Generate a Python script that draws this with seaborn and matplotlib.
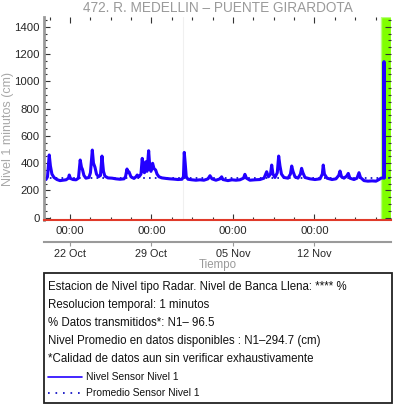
import numpy as np
import pandas as pd
import matplotlib
matplotlib.use("Agg")
import matplotlib.pyplot as plt
import matplotlib.dates as mdates
from matplotlib.ticker import FixedLocator
from matplotlib.lines import Line2D
from matplotlib.patches import Rectangle
import seaborn as sns

# level readings (cm) vs days after 22 Oct 00:00
dias = [-2.06, -1.93, -1.78, -1.68, -1.55, -1.37, -1.12, -0.86, -0.6, -0.34,
        -0.13, -0.06, 0.04, 0.26, 0.52, 0.73, 0.88, 0.99, 1.07, 1.2,
        1.37, 1.63, 1.76, 1.92, 2.02, 2.15, 2.28, 2.45, 2.62, 2.75,
        2.88, 3.0, 3.26, 3.61, 3.95, 4.3, 4.64, 4.77, 4.9, 4.98,
        5.07, 5.24, 5.5, 5.67, 5.78, 5.93, 6.1, 6.21, 6.31, 6.4,
        6.5, 6.62, 6.76, 6.87, 6.96, 7.1, 7.22, 7.36, 7.48, 7.65,
        7.9, 8.25, 8.59, 8.93, 9.28, 9.62, 9.75, 9.82, 9.9, 9.99,
        10.14, 10.48, 10.82, 11.17, 11.51, 11.86, 12.03, 12.2, 12.54, 12.89,
        13.03, 13.14, 13.57, 13.92, 14.26, 14.6, 14.91, 15.03, 15.16, 15.46,
        15.89, 16.32, 16.67, 16.9, 17.05, 17.23, 17.33, 17.44, 17.61, 17.81,
        17.93, 18.04, 18.17, 18.38, 18.73, 18.94, 19.05, 19.16, 19.33, 19.59,
        19.8, 19.9, 20.01, 20.19, 20.62, 21.05, 21.48, 21.68, 21.76, 21.86,
        22.08, 22.51, 22.85, 23.09, 23.2, 23.33, 23.54, 23.77, 23.91, 24.05,
        24.4, 24.66, 24.83, 24.96, 25.26, 25.6, 25.95, 26.29, 26.55, 26.72,
        26.89, 26.97, 26.98, 27.0]
nivel = [280, 300, 460, 380, 320, 295, 280, 272, 275, 278,
         290, 313, 288, 280, 278, 290, 423, 370, 355, 310,
         290, 295, 330, 496, 400, 370, 320, 300, 310, 452,
         340, 305, 292, 290, 285, 282, 285, 300, 357, 330,
         337, 300, 288, 300, 313, 300, 320, 435, 340, 330,
         410, 340, 491, 360, 340, 399, 360, 350, 320, 300,
         292, 288, 285, 283, 280, 282, 300, 479, 400, 300,
         282, 278, 275, 278, 275, 285, 308, 285, 275, 285,
         300, 280, 272, 278, 275, 278, 290, 318, 290, 275,
         278, 280, 290, 337, 300, 320, 386, 320, 295, 330,
         452, 380, 320, 295, 290, 320, 379, 340, 300, 290,
         320, 362, 330, 295, 285, 280, 285, 320, 386, 320,
         290, 280, 285, 310, 342, 300, 290, 305, 325, 290,
         280, 290, 330, 295, 272, 268, 270, 268, 280, 290,
         292, 292, 1144, 292]
promedio = 294.7

inicio = pd.Timestamp("2023-10-22")
x_lim = [-2.23, 27.58]
zona_verde = [26.72, 27.58]
linea_gris = 9.7
ticks_mayores = [0, 7, 14, 21]
etiquetas_hora = ["00:00", "00:00", "00:00", "00:00"]
etiquetas_fecha = ["22 Oct", "29 Oct", "05 Nov", "12 Nov"]
y_ticks = [0, 200, 400, 600, 800, 1000, 1200, 1400]

titulo = "472. R. MEDELLIN \u2013 PUENTE GIRARDOTA"
lineas_caja = [
    "Estacion de Nivel tipo Radar. Nivel de Banca Llena: **** %",
    "Resolucion temporal: 1 minutos",
    "% Datos transmitidos*: N1\u2013 96.5",
    "Nivel Promedio en datos disponibles : N1\u2013294.7 (cm)",
    "*Calidad de datos aun sin verificar exhaustivamente",
]
leyenda = ["Nivel Sensor Nivel 1", "Promedio Sensor Nivel 1"]

sns.set_style("ticks")
plt.rcParams["font.family"] = ["Liberation Sans", "DejaVu Sans"]

W, H = 394, 404
fig = plt.figure(figsize=(W / 100, H / 100), dpi=100)


def fx(px):
    return px / W


def fy(py):
    return 1 - py / H


def fecha(d):
    return inicio + pd.to_timedelta(d, unit="D")


azul = "#2200ff"
gris = "#9a9a9a"

ax = fig.add_axes([fx(44), fy(219.5), fx(391) - fx(44), fy(16.5) - fy(219.5)])
df = pd.DataFrame({"tiempo": [fecha(d) for d in dias], "nivel": nivel})
ax.axvline(fecha(linea_gris), color="#f0f0f0", lw=0.8, zorder=0)
ax.axvspan(fecha(zona_verde[0]), fecha(zona_verde[1]), facecolor="#80ff00",
           edgecolor="#b8ff80", lw=1, zorder=0)
ax.axhline(promedio, color="#0000c0", lw=1.2, ls=(0, (1, 2.5)), zorder=1)
sns.lineplot(data=df, x="tiempo", y="nivel", ax=ax, color=azul, lw=2.2,
             zorder=2, estimator=None)

ax.set_xlim(fecha(x_lim[0]), fecha(x_lim[1]))
ax.set_ylim(-13, 1475)
ax.set_xlabel("")
ax.set_ylabel("")
ax.set_yticks(y_ticks)
ax.yaxis.set_minor_locator(FixedLocator(np.arange(0, 1476, 50)))
ax.set_xticks([mdates.date2num(fecha(d)) for d in ticks_mayores])
ax.set_xticklabels(etiquetas_hora)
ax.xaxis.set_minor_locator(FixedLocator(
    [mdates.date2num(fecha(d)) for d in np.arange(-1.75, 27.6, 1.75)]))
ax.tick_params(which="both", direction="in", top=True, right=True,
               color="#333333", labelsize=8.2, width=0.8)
ax.tick_params(which="major", length=4.5)
ax.tick_params(which="minor", length=2.5)
ax.tick_params(axis="x", pad=4.5)
ax.tick_params(axis="y", pad=3)
for s in ["top", "right"]:
    ax.spines[s].set_visible(False)
ax.spines["left"].set_color(gris)
ax.spines["left"].set_linewidth(2)
ax.spines["bottom"].set_color("#e03a2a")
ax.spines["bottom"].set_linewidth(1.5)

# second date axis
ax2 = fig.add_axes([fx(44), fy(241.7), fx(391) - fx(44), 0.0001])
ax2.set_xlim(x_lim)
ax2.set_yticks([])
for s in ["top", "right", "left"]:
    ax2.spines[s].set_visible(False)
ax2.spines["bottom"].set_color(gris)
ax2.spines["bottom"].set_linewidth(1.5)
ax2.set_xticks(ticks_mayores)
ax2.set_xticklabels(etiquetas_fecha)
ax2.tick_params(axis="x", direction="out", length=3, color=gris,
                labelsize=7.8, pad=2)
ax2.set_xlabel("Tiempo", color=gris, fontsize=8.3, labelpad=0.5)

fig.text(fx(217.5), fy(8), titulo, color=gris, fontsize=9.8,
         ha="center", va="center")
fig.text(fx(8), fy(129), "Nivel 1 minutos (cm)", color="#a8a8a8", fontsize=9,
         rotation=90, ha="center", va="center")

fig.add_artist(Rectangle((fx(43.5), fy(402.7)), fx(391.7) - fx(43.5),
                         fy(272.7) - fy(402.7), transform=fig.transFigure,
                         fill=False, ec="#222222", lw=1.3))
for i, t in enumerate(lineas_caja):
    fig.text(fx(48), fy(287 + 18.1 * i), t, fontsize=8.3, ha="left",
             va="center", color="#111111")
fig.add_artist(Line2D([fx(48), fx(82)], [fy(377)] * 2, color=azul, lw=1.2,
                      transform=fig.transFigure))
fig.add_artist(Line2D([fx(48), fx(82)], [fy(393)] * 2, color="#0000c0",
                      lw=1.2, ls=(0, (1, 3.5)), transform=fig.transFigure))
fig.text(fx(86), fy(376.5), leyenda[0], fontsize=7.4, ha="left",
         va="center", color="#111111")
fig.text(fx(86), fy(392.5), leyenda[1], fontsize=7.4, ha="left",
         va="center", color="#111111")

fig.savefig("out.png", dpi=100)
